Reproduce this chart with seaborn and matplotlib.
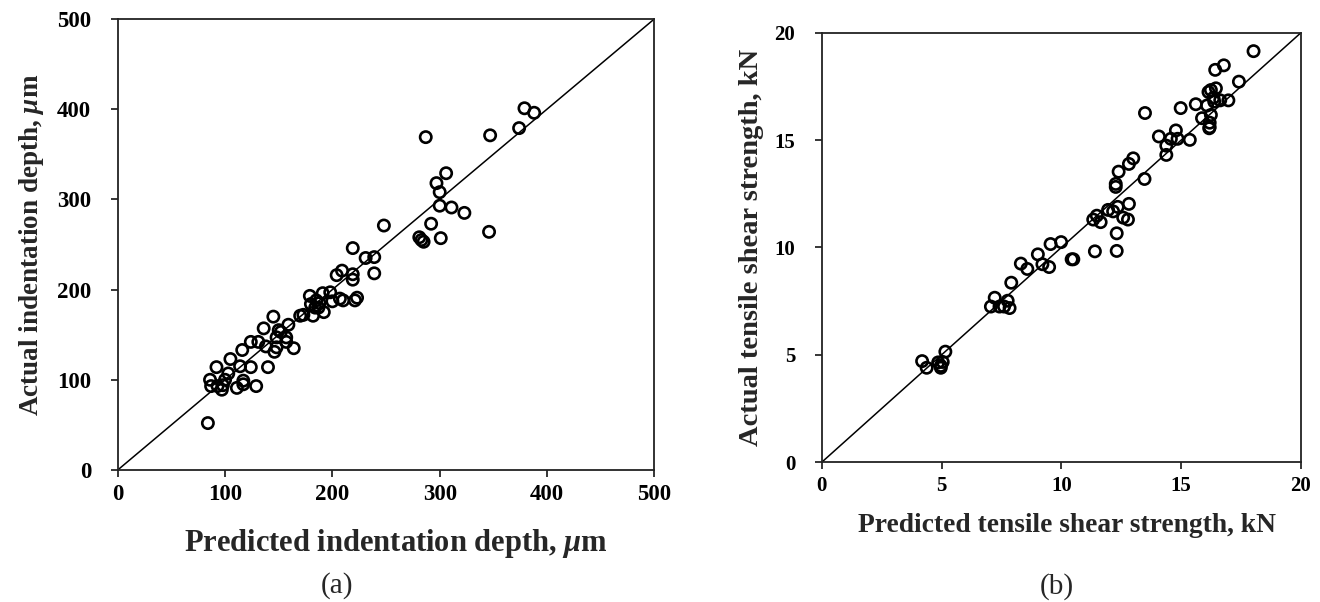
import matplotlib
matplotlib.use('Agg')
import matplotlib.pyplot as plt
import seaborn as sns
import pandas as pd

# (a) indentation depth, um
pred_depth = [84, 86, 87, 92, 93, 97, 98, 100, 103, 105, 111, 114, 116, 117, 117,
              124, 124, 129, 131, 136, 138, 140, 145, 146, 148, 148, 150, 152, 157, 159,
              157, 164, 170, 173, 179, 180, 182, 184, 185, 187, 191, 192, 198, 200, 204,
              207, 209, 210, 219, 219, 219, 221, 223, 231, 239, 239, 248, 281, 283, 285,
              287, 292, 297, 300, 300, 301, 306, 311, 323, 346, 347, 374, 379, 388, 188]
act_depth = [52, 100, 93, 114, 93, 89, 94, 100, 107, 123, 91, 115, 133, 99, 95,
             114, 142, 93, 142, 157, 137, 114, 170, 131, 136, 147, 155, 153, 147, 161,
             142, 135, 171, 172, 193, 184, 171, 180, 188, 180, 196, 175, 197, 187, 216,
             190, 221, 188, 217, 211, 246, 188, 191, 235, 236, 218, 271, 258, 255, 253,
             369, 273, 318, 308, 293, 257, 329, 291, 285, 264, 371, 379, 401, 396, 185]

# (b) tensile shear strength, kN
pred_tss = [4.19, 4.38, 4.86, 4.97, 5.05, 5.16, 4.97, 7.06, 7.22, 7.42, 7.61, 7.76, 7.84,
            7.91, 8.31, 8.58, 9.02, 9.21, 9.49, 9.55, 9.99, 10.43, 10.5, 11.33, 11.48,
            11.64, 11.40, 11.95, 12.16, 12.27, 12.27, 12.35, 12.31, 12.31, 12.39, 12.58,
            12.78, 12.82, 12.82, 13.0, 13.47, 13.49, 14.07, 14.38, 14.38, 14.57, 14.78,
            14.85, 14.98, 15.36, 15.61, 15.87, 16.08, 16.14, 16.19, 16.19, 16.24, 16.24,
            16.35, 16.42, 16.45, 16.63, 16.78, 16.97, 17.41, 18.02, 16.17, 16.38]
act_tss = [4.71, 4.40, 4.65, 4.49, 4.67, 5.15, 4.40, 7.25, 7.66, 7.25, 7.25, 7.52, 7.18,
           8.36, 9.25, 9.0, 9.68, 9.22, 9.09, 10.16, 10.25, 9.45, 9.45, 11.30, 11.48,
           11.18, 9.82, 11.75, 11.68, 12.82, 12.96, 11.89, 10.66, 9.84, 13.53, 11.39,
           11.30, 12.03, 13.89, 14.15, 13.19, 16.26, 15.17, 14.74, 14.31, 15.06, 15.45,
           15.06, 16.49, 15.01, 16.67, 16.02, 16.61, 17.24, 15.60, 15.81, 16.17, 17.33,
           16.97, 18.27, 17.41, 16.85, 18.48, 16.85, 17.72, 19.14, 15.55, 16.79]

depth_df = pd.DataFrame({'pred': pred_depth, 'actual': act_depth})
tss_df = pd.DataFrame({'pred': pred_tss, 'actual': act_tss})

sns.set_style('ticks')
plt.rcParams['font.family'] = ['Liberation Serif', 'DejaVu Serif']
plt.rcParams['font.weight'] = 'bold'
plt.rcParams['mathtext.fontset'] = 'custom'
plt.rcParams['mathtext.it'] = 'Liberation Serif:italic:bold'
plt.rcParams['mathtext.rm'] = 'Liberation Serif:bold'

fig = plt.figure(figsize=(13.2, 6.02), dpi=100)
ax1 = fig.add_axes([0.0892, 0.2193, 0.4065, 0.7492])
ax2 = fig.add_axes([0.6225, 0.2321, 0.3631, 0.7136])


def parity_panel(ax, df, lim, step, xlabel, ylabel, xlab_pos, ylab_pos,
                 tick_fs, xlab_fs, ylab_fs):
    ax.plot([0, lim], [0, lim], color='black', linewidth=1.1, zorder=1)
    sns.scatterplot(data=df, x='pred', y='actual', ax=ax, marker='o', s=66,
                    facecolor='none', edgecolor='black', linewidth=1.9, zorder=2)
    ax.set_xlim(0, lim)
    ax.set_ylim(0, lim)
    ticks = list(range(0, lim + 1, step))
    ax.set_xticks(ticks)
    ax.set_yticks(ticks)
    ax.tick_params(direction='out', length=5, width=1.1, colors='black',
                   labelsize=tick_fs)
    ax.tick_params(axis='x', pad=5)
    ax.tick_params(axis='y', pad=14)
    for lab in ax.get_xticklabels() + ax.get_yticklabels():
        lab.set_fontweight('bold')
    for sp in ax.spines.values():
        sp.set_visible(True)
        sp.set_color('#222222')
        sp.set_linewidth(1.3)
    ax.set_xlabel(xlabel, fontsize=xlab_fs, fontweight='bold')
    ax.set_ylabel(ylabel, fontsize=ylab_fs, fontweight='bold')
    ax.xaxis.set_label_coords(*xlab_pos)
    ax.yaxis.set_label_coords(*ylab_pos)
    ax.xaxis.label.set_verticalalignment('center')
    ax.yaxis.label.set_verticalalignment('center')


parity_panel(ax1, depth_df, 500, 100,
             r'Predicted indentation depth, $\mu$m',
             r'Actual indentation depth, $\mu$m',
             (0.519, -0.162), (-0.1616, 0.5), 16.5, 22, 19.5)
parity_panel(ax2, tss_df, 20, 5,
             'Predicted tensile shear strength, kN',
             'Actual tensile shear strength, kN',
             (0.512, -0.148), (-0.1475, 0.5), 15, 19.8, 20.5)

fig.text(0.2553, 0.028, '(a)', fontsize=21, fontweight='normal', ha='center', va='center')
fig.text(0.8008, 0.025, '(b)', fontsize=21, fontweight='normal', ha='center', va='center')

plt.savefig('out.png', dpi=100, facecolor='white')
